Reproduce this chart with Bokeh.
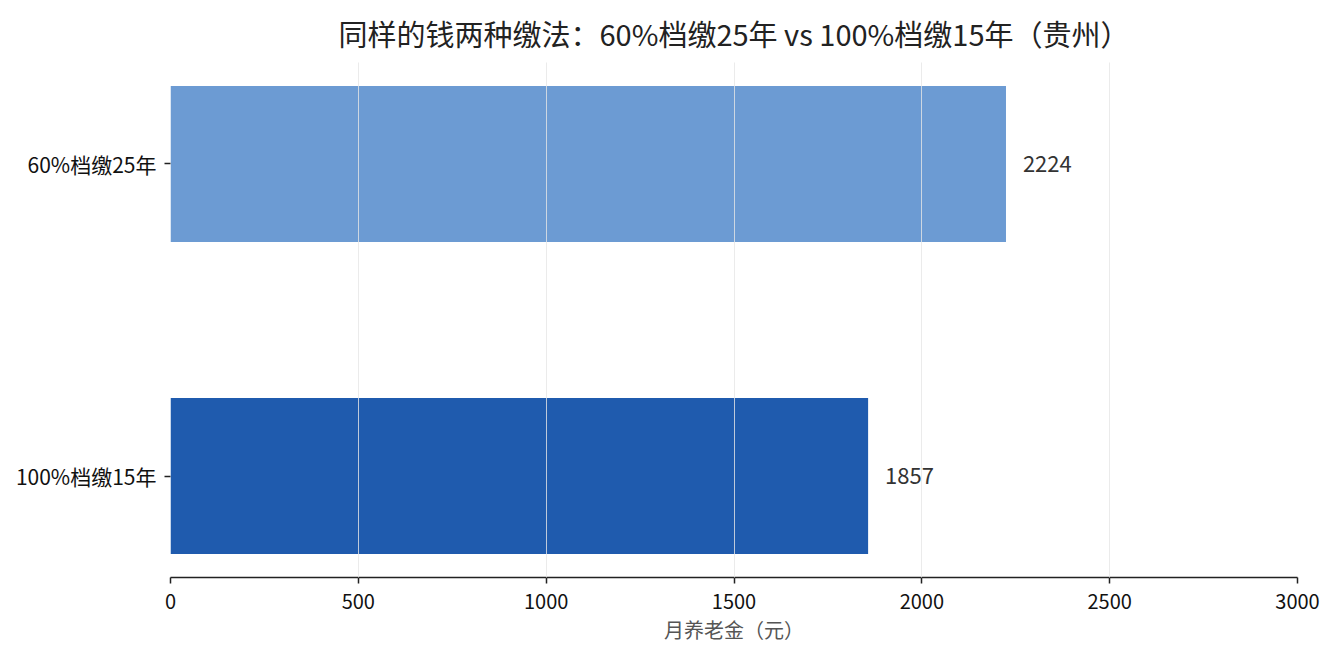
from bokeh.plotting import figure
from bokeh.models import ColumnDataSource, Range1d, FixedTicker, LabelSet
from bokeh.core.properties import value
from bokeh.embed import file_html
from bokeh.resources import INLINE

# Data
categories = ["100%档缴15年", "60%档缴25年"]
pensions = [1857, 2224]
bar_colors = ["#1f5bae", "#6c9bd3"]
x_ticks = [0, 500, 1000, 1500, 2000, 2500, 3000]
title_text = "同样的钱两种缴法：60%档缴25年 vs 100%档缴15年（贵州）"
x_label = "月养老金（元）"

FONT = "Noto Sans CJK SC"

positions = list(range(len(categories)))
src = ColumnDataSource(dict(
    y=positions,
    right=pensions,
    color=bar_colors,
    label=[str(v) for v in pensions],
    lx=[v + 45 for v in pensions],
))

p = figure(
    output_backend="svg", toolbar_location=None,
    frame_width=1127, frame_height=515,
    min_border_left=170, min_border_right=29,
    min_border_top=62, min_border_bottom=75,
    x_range=Range1d(0, 3000), y_range=Range1d(-0.325, 1.325),
    title=title_text,
)

p.hbar(y="y", right="right", left=0, height=0.5, color="color", source=src, line_color=None)

labels = LabelSet(x="lx", y="y", text="label", source=src,
                  text_font=value(FONT), text_font_size="22px", text_color="#333333",
                  text_baseline="middle", text_align="left")
p.add_layout(labels)

# Title
p.title.text_font = FONT
p.title.text_font_size = "29px"
p.title.text_font_style = "normal"
p.title.text_color = "#222222"
p.title.align = "center"
p.title.offset = -6
p.title.standoff = 18

# Axes
p.xaxis.ticker = FixedTicker(ticks=x_ticks)
p.xaxis.axis_label = x_label
p.xaxis.axis_label_text_font = FONT
p.xaxis.axis_label_text_font_size = "20px"
p.xaxis.axis_label_text_font_style = "normal"
p.xaxis.axis_label_text_color = "#555555"
p.xaxis.axis_label_standoff = 3
p.xaxis.major_label_text_font = FONT
p.xaxis.major_label_text_font_size = "20px"
p.xaxis.major_label_text_color = "#111111"
p.xaxis.axis_line_color = "#222222"
p.xaxis.axis_line_width = 1.5
p.xaxis.major_tick_line_color = "#222222"
p.xaxis.major_tick_line_width = 1.5
p.xaxis.major_tick_in = 0
p.xaxis.major_tick_out = 6
p.xaxis.minor_tick_line_color = None
p.xaxis.major_label_standoff = 10

p.yaxis.ticker = FixedTicker(ticks=positions)
p.yaxis.major_label_overrides = {i: c for i, c in zip(positions, categories)}
p.yaxis.major_label_text_font = FONT
p.yaxis.major_label_text_font_size = "21px"
p.yaxis.major_label_text_color = "#111111"
p.yaxis.axis_line_color = None
p.yaxis.major_tick_line_color = "#222222"
p.yaxis.major_tick_line_width = 1.5
p.yaxis.major_tick_in = 0
p.yaxis.major_tick_out = 6
p.yaxis.minor_tick_line_color = None
p.yaxis.major_label_standoff = 8

# Grid
p.ygrid.grid_line_color = None
p.xgrid.ticker = FixedTicker(ticks=x_ticks)
p.xgrid.grid_line_color = "#e6e6e6"
p.xgrid.grid_line_alpha = 0.8
p.xgrid.grid_line_width = 1
p.xgrid.level = "overlay"

p.outline_line_color = None
p.background_fill_color = "white"
p.border_fill_color = "white"

open("out.html", "w").write(file_html(p, INLINE))
